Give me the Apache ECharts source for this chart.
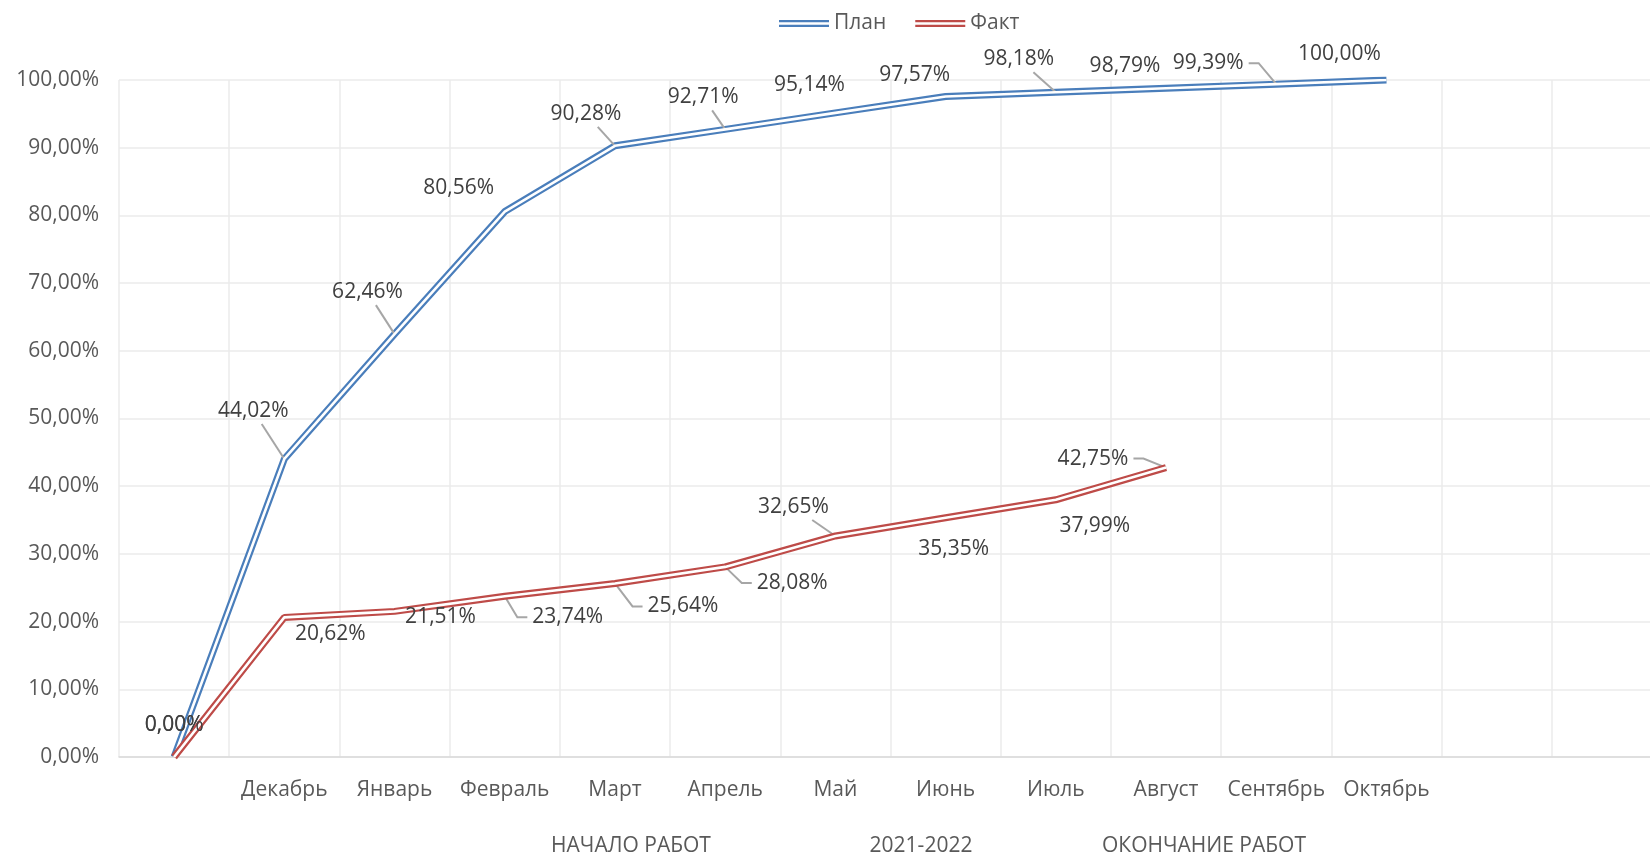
<!DOCTYPE html>
<html>
<head>
<meta charset="utf-8">
<script src="https://cdn.jsdelivr.net/npm/echarts@6/dist/echarts.min.js"></script>
<style>
  html, body { margin: 0; padding: 0; background: #fff; }
  #chart { width: 1650px; height: 855px; }
</style>
</head>
<body>
<div id="chart"></div>
<script>
// категории (первая и две последние пустые, как в исходной диаграмме)
var months = ['', 'Декабрь', 'Январь', 'Февраль', 'Март', 'Апрель', 'Май', 'Июнь', 'Июль', 'Август', 'Сентябрь', 'Октябрь', '', ''];
var planValues = [0, 44.02, 62.46, 80.56, 90.28, 92.71, 95.14, 97.57, 98.18, 98.79, 99.39, 100.00];
var factValues = [0, 20.62, 21.51, 23.74, 25.64, 28.08, 32.65, 35.35, 37.99, 42.75];
var yTicks = [0, 10, 20, 30, 40, 50, 60, 70, 80, 90, 100];
var groupLabels = ['НАЧАЛО РАБОТ', '2021-2022', 'ОКОНЧАНИЕ РАБОТ'];

// смещения подписей данных и выноски
var planOffsets = [[0, -32], [-31, -48], [-27, -42], [-46, -24], [-29, -32], [-22, -32], [-26, -28], [-31, -21], [-37, -33], [-41, -22], [-68, -21], [-47, -26]];
var planLeaders = [false, true, true, false, true, true, false, false, true, false, true, false];
var factOffsets = [[0, -32], [46, 17], [46, 6], [63, 21], [68, 23], [67, 16], [-42, -29], [8, 31], [39, 26], [-73, -9]];
var factLeaders = [false, false, false, true, true, true, true, false, false, true];

var BLUE = '#4a7ebb';
var RED = '#be4b48';
var FONT = 'Open Sans';
var FS = 21;

function pct(v) {
  return v.toFixed(2).replace('.', ',') + '%';
}

// двойная линия: цветная толстая + белая тонкая поверх
function doubleLine(name, color, values, offsets, z) {
  return [{
    name: name,
    type: 'line',
    data: values,
    z: z,
    symbol: 'circle',
    symbolSize: 0,
    itemStyle: { color: color },
    lineStyle: { color: color, width: 7 },
    silent: true
  }, {
    name: name,
    type: 'line',
    data: values,
    z: z + 1,
    symbol: 'circle',
    symbolSize: 0,
    itemStyle: { color: '#fff' },
    lineStyle: { color: '#fff', width: 2.6 },
    silent: true,
    label: {
      show: true,
      position: 'inside',
      color: '#404040',
      fontFamily: FONT,
      fontSize: FS,
      formatter: function (p) { return pct(p.value); }
    },
    labelLayout: function (p) {
      var o = offsets[p.dataIndex];
      return { dx: o[0], dy: o[1] };
    }
  }];
}

var chart = echarts.init(document.getElementById('chart'));
var legendIcon = 'path://M0,0L50,0L50,2.2L0,2.2Z M0,4.6L50,4.6L50,6.8L0,6.8Z';

chart.setOption({
  animation: false,
  backgroundColor: '#fff',
  textStyle: { fontFamily: FONT },
  legend: {
    top: 8,
    left: 774,
    itemWidth: 50,
    itemHeight: 7,
    itemGap: 29,
    textStyle: { color: '#595959', fontSize: FS, fontFamily: FONT },
    data: [
      { name: 'План', icon: legendIcon, itemStyle: { color: BLUE } },
      { name: 'Факт', icon: legendIcon, itemStyle: { color: RED } }
    ]
  },
  grid: { left: 119, width: 1543, top: 80, bottom: 98, outerBoundsMode: 'none' },
  xAxis: {
    type: 'category',
    data: months,
    boundaryGap: true,
    axisLine: { lineStyle: { color: '#d9d9d9', width: 1.5 } },
    axisTick: { show: false },
    axisLabel: { interval: 0, color: '#595959', fontSize: FS, fontFamily: FONT, margin: 23 },
    splitLine: { show: true, interval: 0, lineStyle: { color: '#ebebeb', width: 1.5 } }
  },
  yAxis: {
    type: 'value',
    min: yTicks[0],
    max: yTicks[yTicks.length - 1],
    interval: yTicks[1] - yTicks[0],
    axisLine: { show: false },
    axisTick: { show: false },
    axisLabel: { color: '#595959', fontSize: FS, fontFamily: FONT, margin: 20, formatter: pct },
    splitLine: { lineStyle: { color: '#ebebeb', width: 1.5 } }
  },
  series: [].concat(
    doubleLine('План', BLUE, planValues, planOffsets, 2),
    doubleLine('Факт', RED, factValues, factOffsets, 4)
  )
});

// выноски подписей: от края подписи к точке (координаты точки берутся из осей)
var ctx = document.createElement('canvas').getContext('2d');
ctx.font = FS + 'px "' + FONT + '"';

function leaderLines(seriesIndex, values, offsets, leaders) {
  var out = [];
  values.forEach(function (v, i) {
    if (!leaders[i]) return;
    var p = chart.convertToPixel({ seriesIndex: seriesIndex }, [i, v]);
    var o = offsets[i];
    var cx = p[0] + o[0], cy = p[1] + o[1];
    var hw = ctx.measureText(pct(v)).width / 2 + 5;
    var hh = 13;
    var pts;
    if (Math.abs(o[0]) > hw + 2) {
      var dir = o[0] > 0 ? -1 : 1;
      var sx = cx + dir * hw;
      pts = [[sx, cy], [sx + dir * 10, cy], [p[0], p[1]]];
    } else {
      var t = hh / Math.abs(o[1]);
      pts = [[cx - o[0] * t, cy - o[1] * t], [p[0], p[1]]];
    }
    out.push({
      type: 'polyline',
      z: 3,
      silent: true,
      shape: { points: pts },
      style: { stroke: '#a6a6a6', lineWidth: 2, fill: null }
    });
  });
  return out;
}

function groupText(text, x) {
  return {
    type: 'text', x: x, y: 846, silent: true,
    style: { text: text, fill: '#595959', font: FS + 'px "' + FONT + '"', align: 'center', verticalAlign: 'middle' }
  };
}

chart.setOption({
  graphic: [
    groupText(groupLabels[0], 631),
    groupText(groupLabels[1], 921),
    groupText(groupLabels[2], 1204)
  ].concat(
    leaderLines(1, planValues, planOffsets, planLeaders),
    leaderLines(3, factValues, factOffsets, factLeaders)
  )
});
</script>
</body>
</html>
